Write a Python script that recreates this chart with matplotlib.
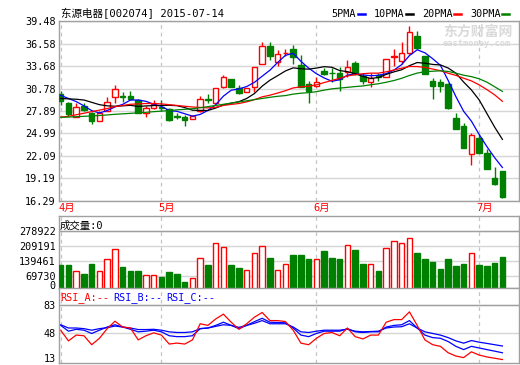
import numpy as np
import pandas as pd
import matplotlib
matplotlib.use('Agg')
import matplotlib.pyplot as plt
from matplotlib.transforms import blended_transform_factory

plt.rcParams['font.family'] = ['DejaVu Sans Mono', 'Noto Sans CJK SC']

# ---- data (one entry per trading day) ----
open_ = [30.09, 28.88, 27.16, 28.54, 27.59, 26.64, 27.94, 29.66, 29.79, 29.83,
         29.31, 27.68, 28.24, 28.45, 28.11, 27.24, 27.12, 26.90, 27.94, 29.44,
         28.97, 31.04, 31.98, 30.91, 30.39, 31.04, 33.92, 36.29, 34.22, 35.30,
         35.86, 33.83, 31.38, 31.12, 33.10, 32.80, 32.84, 32.97, 34.05, 32.41,
         31.68, 32.54, 32.24, 34.87, 34.27, 35.34, 37.50, 34.91, 31.77, 31.64,
         31.38, 26.99, 25.95, 22.30, 24.45, 22.42, 19.24, 20.14]
high = [30.45, 29.06, 28.88, 28.97, 27.81, 27.94, 29.74, 31.25, 30.39, 30.48,
        29.49, 28.54, 29.31, 29.31, 28.24, 27.59, 27.38, 27.38, 29.83, 30.09,
        30.86, 32.54, 31.98, 31.25, 30.82, 33.53, 36.76, 36.76, 35.69, 35.86,
        36.42, 35.13, 31.81, 32.24, 33.40, 33.40, 33.49, 34.48, 34.35, 32.76,
        32.76, 32.76, 34.57, 35.86, 36.72, 38.87, 38.14, 34.91, 32.11, 32.02,
        31.55, 27.59, 26.30, 25.09, 24.92, 22.94, 20.70, 20.14]
low = [28.67, 27.29, 27.07, 27.94, 26.21, 26.64, 27.94, 28.97, 29.10, 29.31,
       27.59, 27.07, 28.11, 27.94, 26.64, 26.82, 25.95, 26.90, 27.81, 28.88,
       28.80, 30.82, 31.04, 30.09, 30.39, 30.39, 33.92, 34.40, 33.62, 34.99,
       33.96, 31.04, 28.88, 31.04, 32.54, 31.68, 30.52, 32.24, 32.54, 31.38,
       31.04, 31.77, 32.24, 33.62, 34.00, 35.26, 35.86, 32.63, 29.49, 30.39,
       28.11, 25.57, 23.16, 20.92, 22.51, 20.44, 18.38, 16.70]
close = [29.22, 27.46, 28.37, 28.02, 26.60, 27.68, 29.06, 30.69, 29.66, 29.40,
         27.68, 28.24, 28.80, 28.28, 26.73, 27.16, 26.69, 27.25, 29.40, 29.31,
         30.82, 32.24, 31.04, 30.26, 30.82, 33.53, 36.20, 34.91, 35.26, 35.38,
         34.83, 31.04, 30.52, 31.68, 32.63, 32.72, 31.98, 33.49, 32.67, 31.81,
         32.20, 32.24, 34.57, 34.95, 35.34, 38.01, 35.99, 32.63, 31.12, 31.12,
         28.24, 25.57, 23.16, 24.79, 22.51, 20.44, 18.46, 16.83]
volume = [123100, 123100, 95700, 82000, 127700, 95700, 150600, 196400, 114000, 95700,
          95700, 77400, 77400, 68200, 91100, 82000, 45300, 63600, 155200, 123100,
          223900, 205600, 123100, 109400, 100300, 178100, 210100, 155200, 100300, 127700,
          168900, 168900, 150600, 150600, 187200, 155200, 150600, 214700, 191800, 127700,
          127700, 95700, 201000, 233000, 223900, 246800, 178100, 150600, 136900, 104800,
          150600, 118600, 127700, 178100, 123100, 118600, 132300, 159800]

# moving-average values before a full window exists
ma5_head = [29.9, 29.5, 29.1, 28.55]
ma10_head = [29.5, 29.45, 29.4, 29.3, 29.0, 28.7, 28.55, 28.5, 28.55]
ma20_head = [27.1, 27.2, 27.4, 27.6, 27.8, 28.0, 28.2, 28.45, 28.6, 28.75,
             28.8, 28.85, 28.85, 28.8, 28.7, 28.6, 28.5, 28.4, 28.35]
ma30_head = [27.07, 27.1, 27.15, 27.2, 27.25, 27.3, 27.38, 27.46, 27.52, 27.58,
             27.65, 27.72, 27.8, 27.87, 27.94, 28.03, 28.1, 28.18, 28.3, 28.45,
             28.6, 28.75, 28.9, 29.05, 29.2, 29.35, 29.5, 29.65, 29.78]

rsi_a = [51.9, 38.9, 46.0, 45.2, 34.2, 42.1, 53.9, 63.0, 55.9, 54.7,
         40.1, 45.2, 48.8, 46.0, 35.0, 36.2, 35.0, 40.1, 59.9, 57.9,
         65.8, 71.7, 61.8, 53.1, 59.9, 68.0, 73.7, 63.8, 63.8, 62.6,
         52.0, 36.1, 34.2, 42.1, 48.0, 49.2, 45.2, 54.7, 44.1, 41.3,
         46.0, 46.0, 61.8, 65.0, 65.0, 74.5, 57.9, 40.1, 34.2, 32.2,
         24.3, 20.3, 18.4, 25.5, 21.5, 19.2, 17.6, 16.0]
rsi_b = [57.9, 50.8, 53.1, 52.0, 48.0, 52.0, 55.9, 58.7, 55.9, 53.1,
         50.0, 50.8, 52.0, 50.0, 45.2, 44.1, 44.1, 45.2, 53.9, 54.7,
         57.9, 61.8, 57.9, 53.9, 57.9, 62.5, 66.6, 61.8, 61.5, 61.1,
         54.7, 46.0, 44.1, 48.0, 50.8, 50.8, 50.8, 53.9, 50.0, 49.2,
         50.0, 50.0, 55.9, 57.9, 58.7, 63.8, 54.7, 46.0, 42.9, 42.1,
         38.1, 32.2, 28.2, 32.2, 30.2, 28.2, 26.3, 24.3]
rsi_c = [58.7, 54.7, 54.7, 53.9, 52.0, 53.9, 55.1, 57.1, 55.9, 54.7,
         52.8, 52.8, 53.1, 52.0, 50.0, 49.2, 49.2, 50.0, 53.9, 54.7,
         56.7, 58.7, 57.9, 55.5, 57.9, 60.5, 63.8, 59.9, 59.9, 59.9,
         55.9, 50.0, 49.2, 50.8, 52.0, 52.0, 52.0, 53.1, 50.8, 50.0,
         50.4, 50.8, 54.7, 55.9, 56.3, 59.9, 54.7, 50.0, 48.0, 46.0,
         42.9, 38.9, 36.1, 39.3, 37.3, 35.8, 34.2, 32.6]

month_labels = ['4月', '5月', '6月', '7月']
month_starts = [0, 13, 33, 54]
price_ticks = [39.48, 36.58, 33.68, 30.78, 27.89, 24.99, 22.09, 19.19, 16.29]
vol_ticks = [69730, 139461, 209191, 278922]
rsi_ticks = [48, 83]
rsi_floor = 13


def moving_avg(n, head):
    ma = pd.Series(close).rolling(n).mean().to_numpy()
    ma[:n - 1] = head
    return ma


ma5 = moving_avg(5, ma5_head)
ma10 = moving_avg(10, ma10_head)
ma20 = moving_avg(20, ma20_head)
ma30 = moving_avg(30, ma30_head)

RED = '#ff0000'
GREEN = '#008000'
BLUE = '#0000ff'
FRAME = '#a0a0a0'
GRID = '#d6d6d6'
DASH = '#c4c4c4'

W, H = 520, 365
fig = plt.figure(figsize=(W / 100, H / 100), dpi=100)


def px_axes(x0, y0, x1, y1):
    return fig.add_axes([x0 / W, 1 - y1 / H, (x1 - x0) / W, (y1 - y0) / H])


ax_p = px_axes(59, 21, 519, 201)
ax_v = px_axes(59, 215.7, 519, 288.3)
ax_r = px_axes(59, 288.3, 519, 363.3)

x = np.arange(len(close))
up = np.array(close) >= np.array(open_)

for ax in (ax_p, ax_v, ax_r):
    ax.set_xlim(-0.22, 59.14)
    ax.set_xticks([])
    for s in ax.spines.values():
        s.set_color(FRAME)
        s.set_linewidth(1)
    ax.tick_params(axis='y', length=0, pad=2.5, labelsize=7.3)
    ax.grid(axis='y', color=GRID, lw=1)
    ax.set_axisbelow(True)
    for m in month_starts:
        ax.axvline(m, color=DASH, lw=0.9, ls=(0, (3, 3)), zorder=0.5)

# ---- price panel ----
ax_p.set_ylim(16.29, 39.48)
ax_p.set_yticks(price_ticks)
ax_p.set_yticklabels(['%.2f' % v for v in price_ticks])
for i in x:
    col = RED if up[i] else GREEN
    ax_p.vlines(i, low[i], high[i], color=col, lw=1, zorder=2)
    body_lo = min(open_[i], close[i])
    body_h = max(abs(close[i] - open_[i]), 0.04)
    ax_p.bar(i, body_h, bottom=body_lo, width=0.7,
             facecolor='white' if up[i] else GREEN, edgecolor=col, lw=1, zorder=3)
for ma, col in ((ma5, BLUE), (ma10, 'black'), (ma20, RED), (ma30, GREEN)):
    ax_p.plot(x, ma, color=col, lw=0.9, zorder=4)

tr = blended_transform_factory(ax_p.transData, ax_p.transAxes)
for m, lab in zip(month_starts, month_labels):
    ax_p.text(m - 0.35, -0.04, lab, transform=tr, color=RED, fontsize=7.5,
              ha='left', va='center')

# ---- volume panel ----
ax_v.set_ylim(15565, 347900)
ax_v.set_yticks(vol_ticks)
ax_v.set_yticklabels([str(v) for v in vol_ticks])
ax_v.axhline(vol_ticks[-1], color=FRAME, lw=1, zorder=1)
ax_v.bar(x, volume, width=0.7, bottom=0,
         color=['white' if u else GREEN for u in up],
         edgecolor=[RED if u else GREEN for u in up], lw=1, zorder=3)
ax_v.text(-3.2 / 460, 0.03, '0', transform=ax_v.transAxes, ha='right',
          va='center', fontsize=7.3)
ax_v.text(1 / 460, 0.86, '成交量:0', transform=ax_v.transAxes, ha='left',
          va='center', fontsize=7.5)

# ---- RSI panel ----
ax_r.set_ylim(11.4, 103.4)
ax_r.set_yticks(rsi_ticks)
ax_r.axhline(83, color=FRAME, lw=1, zorder=1)
ax_r.plot(x, rsi_c, color=BLUE, lw=0.9)
ax_r.plot(x, rsi_b, color=BLUE, lw=0.9)
ax_r.plot(x, rsi_a, color=RED, lw=0.9)
# bottom label sits right on the lower edge, keep it inside the picture
fig.text(55.8 / W, 0.6 / H, str(rsi_floor), fontsize=7.3, ha='right', va='bottom')
for xp, lab, col in ((60, 'RSI_A:--', RED), (113, 'RSI_B:--', BLUE), (166.5, 'RSI_C:--', BLUE)):
    fig.text(xp / W, 1 - 297.3 / H, lab, color=col, fontsize=7.3, ha='left', va='center')

# ---- header ----
fig.text(61 / W, 1 - 13.5 / H, '东源电器[002074] 2015-07-14', fontsize=7.6,
         ha='left', va='center')
for xp, lab, col in ((331, '5PMA', BLUE), (374, '10PMA', 'black'),
                     (422, '20PMA', RED), (470, '30PMA', GREEN)):
    fig.text(xp / W, 1 - 14 / H, lab, fontsize=7.3, ha='left', va='center')
    seg_x = xp + (27 if lab == '5PMA' else 31.5)
    fig.add_artist(plt.Line2D([seg_x / W, (seg_x + 7) / W],
                              [1 - 13.5 / H, 1 - 13.5 / H], color=col, lw=1.8))

# watermark
fig.text(443 / W, 1 - 31.5 / H, '东方财富网', fontsize=10, color='#dadada',
         fontweight='bold', ha='left', va='center', zorder=0)
fig.text(443 / W, 1 - 43.5 / H, 'eastmoney.com', fontsize=6.3, color='#dadada',
         fontweight='bold', ha='left', va='center', zorder=0)

fig.savefig('out.png', dpi=100)
